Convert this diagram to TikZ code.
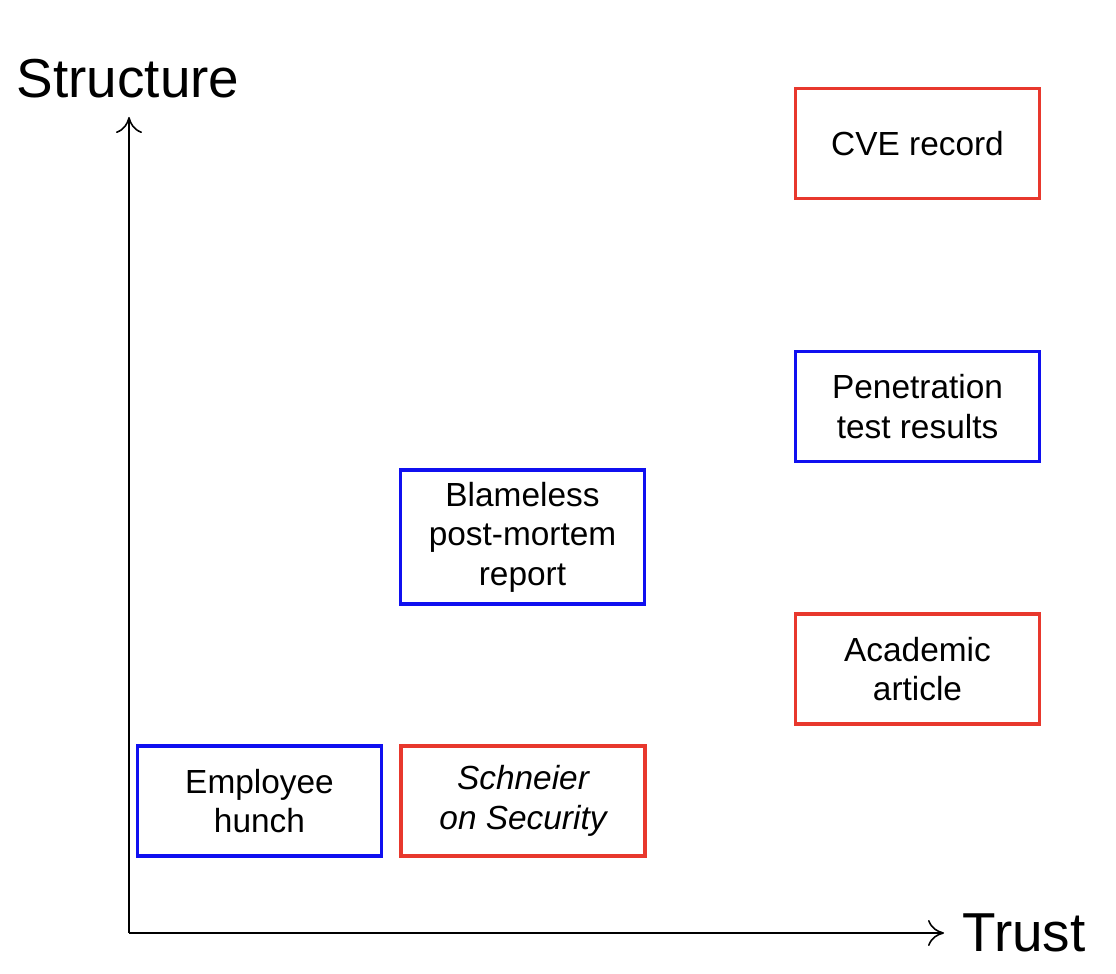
\documentclass[tikz,border=0pt]{standalone}
\usepackage{fontspec}
\setmainfont{Liberation Sans}
\usetikzlibrary{arrows.meta, positioning}

\definecolor{boxred}{HTML}{E8382D}
\definecolor{boxblue}{HTML}{1010F0}

\begin{document}
\begin{tikzpicture}[
        x=0.01cm, y=-0.01cm,
        font=\fontsize{9.5}{11.2}\selectfont,
        node distance=1.6mm,
        source/.style={
            draw,
            line width=0.95pt,
            align=center,
            minimum width=2.44cm,
            minimum height=1.1cm,
            inner sep=2pt
        },
        formal/.style={source, draw=boxred},
        informal/.style={source, draw=boxblue},
        axis/.style={
            -{To[length=1.6mm, width=2.6mm]},
            line width=0.45pt
        },
        axislabel/.style={
            font=\fontsize{15.6}{17}\selectfont,
            inner sep=0pt
        }
    ]

    \useasboundingbox (0,0) rectangle (1116,974);

    \coordinate (origin) at (129,933);
    \coordinate (ytop) at (129,117);
    \coordinate (xend) at (944,933);

    \draw[axis] (origin) -- (ytop);
    \draw[axis] (origin) -- (xend);

    \node[axislabel] (structure) at (128,79) {Structure};
    \node[axislabel, anchor=west] (trust) at (962,933) {Trust};

    \node[informal] (hunch) at (259.5,801) {Employee\\hunch};
    \node[formal, right=of hunch] (schneier) {\itshape Schneier\\\itshape on Security};
    \node[informal, minimum height=1.34cm] (postmortem) at (522.5,537) {Blameless\\post-mortem\\report};

    \node[formal] (cve) at (917.5,143.5) {CVE record};
    \node[informal] (pentest) at (917.5,406.5) {Penetration\\test results};
    \node[formal] (academic) at (917.5,669) {Academic\\article};

\end{tikzpicture}
\end{document}
